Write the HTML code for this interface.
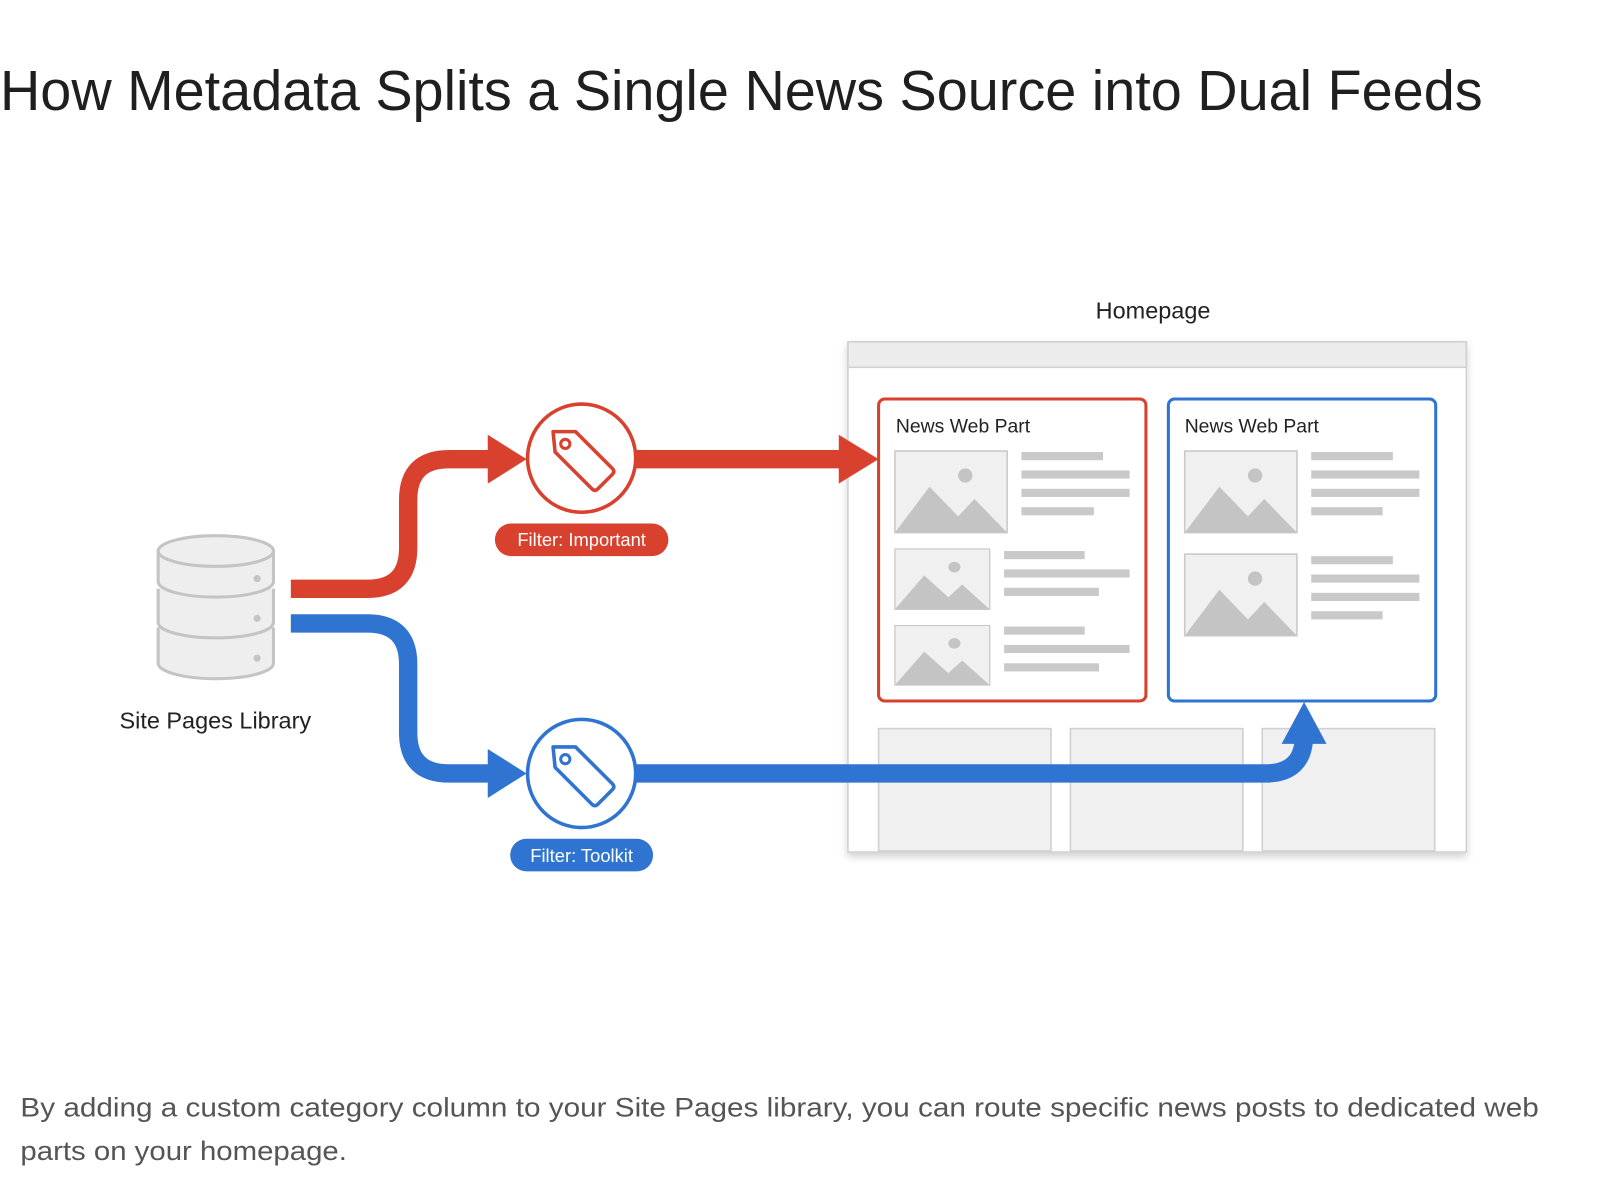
<!DOCTYPE html>
<html><head><meta charset="utf-8"><style>
html,body{margin:0;padding:0;background:#fff;}
svg{display:block;}
text{font-family:"Liberation Sans",sans-serif;}
</style></head><body>
<svg width="1600" height="1200" viewBox="0 0 1568 1176" xmlns="http://www.w3.org/2000/svg">
<defs>
<filter id="sh" x="-5%" y="-5%" width="110%" height="115%"><feDropShadow dx="0" dy="4" stdDeviation="4" flood-color="#000" flood-opacity="0.18"/></filter>
<g id="img">
<rect x="0" y="0" width="110" height="80" fill="#f0f0f0" stroke="#c8c8c8" stroke-width="1.5"/>
<circle cx="69" cy="24" r="7" fill="#c4c4c4"/>
<path d="M0 80 L34 35 L62 64 L78 47 L110 80 Z" fill="#c4c4c4"/>
</g>
<g id="tag">
<path d="M-30 -28 L-8 -28 L28 8 Q31 11 28 14 L14 28 Q11 31 8 28 L-28 -8 Z" fill="none" stroke-width="3.5" stroke-linejoin="round"/>
<circle cx="-18" cy="-16" r="4.5" fill="none" stroke-width="3"/>
</g>
</defs>
<rect width="1568" height="1176" fill="#fff"/>
<text x="0" y="108" font-size="55" fill="#1f1f1f" textLength="1453" lengthAdjust="spacingAndGlyphs">How Metadata Splits a Single News Source into Dual Feeds</text>

<text x="1130" y="312" font-size="23" fill="#222" text-anchor="middle">Homepage</text>
<g filter="url(#sh)">
<rect x="831" y="335" width="606" height="500" fill="#fff" stroke="#d0d0d0" stroke-width="1.5"/>
</g>
<rect x="831" y="335" width="606" height="25" fill="#ececec" stroke="#d0d0d0" stroke-width="1.5"/>
<g fill="#f0f0f0" stroke="#cfcfcf" stroke-width="1.5">
<rect x="861" y="714" width="169" height="120"/>
<rect x="1049" y="714" width="169" height="120"/>
<rect x="1237" y="714" width="169" height="120"/>
</g>

<rect x="861" y="391" width="262" height="296" rx="6" fill="#fff" stroke="#d9412f" stroke-width="3"/>
<rect x="1145" y="391" width="262" height="296" rx="6" fill="#fff" stroke="#2f74d0" stroke-width="3"/>
<text x="878" y="424" font-size="19" fill="#222">News Web Part</text>
<text x="1161" y="424" font-size="19" fill="#222">News Web Part</text>
<use href="#img" transform="translate(877,442)"/>
<use href="#img" transform="translate(877,538) scale(0.845,0.74)"/>
<use href="#img" transform="translate(877,613) scale(0.845,0.73)"/>
<use href="#img" transform="translate(1161,442)"/>
<use href="#img" transform="translate(1161,543)"/>
<g fill="#c9c9c9">
<rect x="1001" y="443" width="80" height="8"/><rect x="1001" y="461" width="106" height="8"/><rect x="1001" y="479" width="106" height="8"/><rect x="1001" y="497" width="71" height="8"/>
<rect x="984" y="540" width="79" height="8"/><rect x="984" y="558" width="123" height="8"/><rect x="984" y="576" width="93" height="8"/>
<rect x="984" y="614" width="79" height="8"/><rect x="984" y="632" width="123" height="8"/><rect x="984" y="650" width="93" height="8"/>
<rect x="1285" y="443" width="80" height="8"/><rect x="1285" y="461" width="106" height="8"/><rect x="1285" y="479" width="106" height="8"/><rect x="1285" y="497" width="70" height="8"/>
<rect x="1285" y="545" width="80" height="8"/><rect x="1285" y="563" width="106" height="8"/><rect x="1285" y="581" width="106" height="8"/><rect x="1285" y="599" width="70" height="8"/>
</g>

<g fill="#eeeeee" stroke="#c4c4c4" stroke-width="3">
<path d="M155 615 L155 650 A56 15 0 0 0 268 650 L268 615"/>
<path d="M155 577 L155 610 A56 15 0 0 0 268 610 L268 577"/>
<path d="M155 540 L155 570 A56 15 0 0 0 268 570 L268 540"/>
<ellipse cx="211.5" cy="540" rx="56.5" ry="15"/>
</g>
<g fill="#c4c4c4"><circle cx="252" cy="567" r="3.5"/><circle cx="252" cy="606" r="3.5"/><circle cx="252" cy="645" r="3.5"/></g>
<text x="211" y="714" font-size="23" fill="#222" text-anchor="middle">Site Pages Library</text>

<path d="M285 577 L360 577 Q400 577 400 537 L400 490 Q400 450 440 450 L482 450" fill="none" stroke="#d9412f" stroke-width="18"/>
<path d="M478 426 L516 450 L478 474 Z" fill="#d9412f"/>
<path d="M622 450 L826 450" stroke="#d9412f" stroke-width="18"/>
<path d="M822 426 L861 450 L822 474 Z" fill="#d9412f"/>
<circle cx="570" cy="449" r="53" fill="#fff" stroke="#d9412f" stroke-width="3.5"/>
<use href="#tag" transform="translate(572,451)" stroke="#d9412f"/>
<rect x="485" y="513" width="170" height="32" rx="16" fill="#d9412f"/>
<text x="570" y="535" font-size="18" fill="#fff" text-anchor="middle">Filter: Important</text>

<path d="M285 611 L360 611 Q400 611 400 651 L400 718 Q400 758 440 758 L482 758" fill="none" stroke="#2f74d0" stroke-width="18"/>
<path d="M478 734 L516 758 L478 782 Z" fill="#2f74d0"/>
<path d="M622 758 L1240 758 Q1278 758 1278 720 L1278 724" fill="none" stroke="#2f74d0" stroke-width="18"/>
<path d="M1256 729 L1278 688 L1300 729 Z" fill="#2f74d0"/>
<circle cx="570" cy="758" r="53" fill="#fff" stroke="#2f74d0" stroke-width="3.5"/>
<use href="#tag" transform="translate(572,760)" stroke="#2f74d0"/>
<rect x="500" y="822" width="140" height="32" rx="16" fill="#2f74d0"/>
<text x="570" y="845" font-size="18" fill="#fff" text-anchor="middle">Filter: Toolkit</text>

<text x="20" y="1094" font-size="26.5" fill="#555" textLength="1488" lengthAdjust="spacingAndGlyphs">By adding a custom category column to your Site Pages library, you can route specific news posts to dedicated web</text>
<text x="20" y="1137" font-size="26.5" fill="#555" textLength="320" lengthAdjust="spacingAndGlyphs">parts on your homepage.</text>
</svg>
</body></html>
